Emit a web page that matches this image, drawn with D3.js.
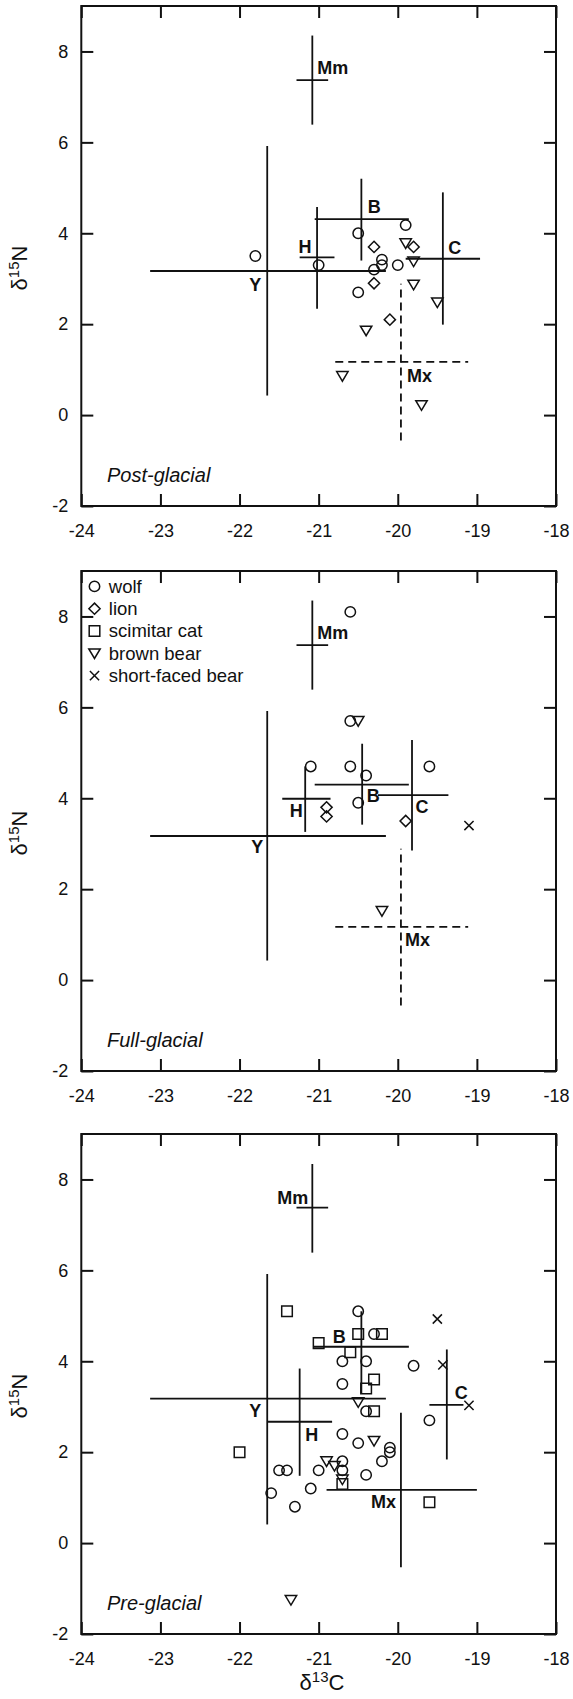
<!DOCTYPE html>
<html>
<head>
<meta charset="utf-8">
<script src="https://cdn.jsdelivr.net/npm/d3@7"></script>
<style>
  body { margin: 0; background: #fff; }
  svg text { font-family: "Liberation Sans", Arial, Helvetica, sans-serif; fill: #111; }
</style>
</head>
<body>
<div id="chart"></div>
<script>
// axis ticks
var xTicks = [-24, -23, -22, -21, -20, -19, -18];
var yTicks = [-2, 0, 2, 4, 6, 8];

// legend entries
var species = ["wolf", "lion", "scimitar cat", "brown bear", "short-faced bear"];
var speciesSymbol = ["circle", "diamond", "square", "triangle", "cross"];

// post-glacial points [d13C, d15N]
var postWolf = [[-21.8, 3.5], [-21.0, 3.3], [-20.5, 4.0], [-20.5, 2.7], [-20.3, 3.2], [-20.2, 3.42], [-20.2, 3.3], [-20.0, 3.3], [-19.9, 4.18]];
var postLion = [[-20.3, 3.7], [-20.3, 2.9], [-20.1, 2.1], [-19.8, 3.7]];
var postBrownBear = [[-19.9, 3.78], [-19.8, 3.38], [-19.8, 2.87], [-19.5, 2.48], [-20.4, 1.86], [-20.7, 0.86], [-19.7, 0.22]];

// full-glacial points
var fullWolf = [[-20.6, 8.1], [-20.6, 5.7], [-21.1, 4.7], [-20.6, 4.7], [-20.4, 4.5], [-20.5, 3.9], [-19.6, 4.7]];
var fullLion = [[-20.9, 3.8], [-20.9, 3.6], [-19.9, 3.5]];
var fullBrownBear = [[-20.5, 5.7], [-20.2, 1.52]];
var fullShortFaced = [[-19.1, 3.4]];

// pre-glacial points
var preWolf = [[-20.5, 5.1], [-20.3, 4.6], [-20.7, 4.0], [-20.4, 4.0], [-19.8, 3.9], [-20.7, 3.5], [-20.4, 2.9], [-19.6, 2.7],
  [-20.7, 2.4], [-20.5, 2.2], [-20.1, 2.1], [-20.1, 2.0], [-20.2, 1.8], [-20.7, 1.8], [-20.7, 1.6], [-20.4, 1.5],
  [-21.5, 1.6], [-21.4, 1.6], [-21.0, 1.6], [-21.1, 1.2], [-21.6, 1.1], [-21.3, 0.8]];
var preScimitar = [[-21.4, 5.1], [-21.0, 4.4], [-20.5, 4.6], [-20.2, 4.6], [-20.6, 4.2], [-20.3, 3.6], [-20.4, 3.4], [-20.3, 2.9],
  [-22.0, 2.0], [-20.7, 1.3], [-19.6, 0.9]];
var preBrownBear = [[-20.5, 3.1], [-20.3, 2.25], [-20.9, 1.8], [-20.8, 1.7], [-20.7, 1.4], [-21.35, -1.25]];
var preShortFaced = [[-19.5, 4.93], [-19.43, 3.92], [-19.1, 3.03]];

// prey group means with ranges (x = d13C, y = d15N)
var postGroups = [
  { label: "Mm", x: -21.08, x0: -21.28, x1: -20.88, y: 7.37, y0: 6.39, y1: 8.35 },
  { label: "Y", x: -21.65, x0: -23.13, x1: -20.15, y: 3.17, y0: 0.43, y1: 5.92 },
  { label: "H", x: -21.02, x0: -21.24, x1: -20.80, y: 3.47, y0: 2.34, y1: 4.58 },
  { label: "B", x: -20.46, x0: -21.05, x1: -19.86, y: 4.31, y0: 3.40, y1: 5.20 },
  { label: "C", x: -19.43, x0: -19.90, x1: -18.96, y: 3.44, y0: 1.99, y1: 4.90 },
  { label: "Mx", x: -19.96, x0: -20.79, x1: -19.11, y: 1.17, y0: -0.56, y1: 2.89 }
];
var fullGroups = [
  { label: "Mm", x: -21.08, x0: -21.28, x1: -20.88, y: 7.37, y0: 6.39, y1: 8.35 },
  { label: "Y", x: -21.65, x0: -23.13, x1: -20.15, y: 3.17, y0: 0.43, y1: 5.92 },
  { label: "H", x: -21.17, x0: -21.46, x1: -20.85, y: 3.99, y0: 3.26, y1: 4.70 },
  { label: "B", x: -20.45, x0: -21.05, x1: -19.86, y: 4.30, y0: 3.42, y1: 5.20 },
  { label: "C", x: -19.82, x0: -20.25, x1: -19.36, y: 4.07, y0: 2.85, y1: 5.28 },
  { label: "Mx", x: -19.96, x0: -20.79, x1: -19.11, y: 1.17, y0: -0.56, y1: 2.89 }
];
var preGroups = [
  { label: "Mm", x: -21.08, x0: -21.28, x1: -20.88, y: 7.38, y0: 6.39, y1: 8.34 },
  { label: "Y", x: -21.65, x0: -23.13, x1: -20.15, y: 3.18, y0: 0.41, y1: 5.92 },
  { label: "H", x: -21.24, x0: -21.64, x1: -20.83, y: 2.67, y0: 1.48, y1: 3.84 },
  { label: "B", x: -20.46, x0: -21.07, x1: -19.86, y: 4.32, y0: 3.30, y1: 5.10 },
  { label: "C", x: -19.38, x0: -19.60, x1: -19.17, y: 3.04, y0: 1.84, y1: 4.26 },
  { label: "Mx", x: -19.96, x0: -20.90, x1: -19.00, y: 1.17, y0: -0.53, y1: 2.87 }
];

// label placement (px offset from the cross centre, text anchor)
var labelPos = {
  post: { Mm: [5, -6, "start"], Y: [-12, 20, "middle"], H: [-12, -4, "middle"], B: [13, -6, "middle"], C: [12, -5, "middle"], Mx: [6, 20, "start"] },
  full: { Mm: [5, -6, "start"], Y: [-10, 17, "middle"], H: [-9, 18, "middle"], B: [11, 17, "middle"], C: [10, 18, "middle"], Mx: [4, 19, "start"] },
  pre: { Mm: [-4, -4, "end"], Y: [-12, 18, "middle"], H: [12, 19, "middle"], B: [-22, -4, "middle"], C: [8, -6, "start"], Mx: [-5, 18, "end"] }
};

var panels = [
  { key: "post", title: "Post-glacial", top: 6, groups: postGroups, dashed: ["Mx"], legend: false,
    series: [[postWolf, "circle"], [postLion, "diamond"], [postBrownBear, "triangle"]] },
  { key: "full", title: "Full-glacial", top: 571, groups: fullGroups, dashed: ["Mx"], legend: true,
    series: [[fullWolf, "circle"], [fullLion, "diamond"], [fullBrownBear, "triangle"], [fullShortFaced, "cross"]] },
  { key: "pre", title: "Pre-glacial", top: 1134, groups: preGroups, dashed: [], legend: false,
    series: [[preWolf, "circle"], [preScimitar, "square"], [preBrownBear, "triangle"], [preShortFaced, "cross"]] }
];

var width = 573, height = 1699;
var plotLeft = 81.3, plotRight = 556, plotH = 500;

var svg = d3.select("#chart").append("svg")
  .attr("width", width)
  .attr("height", height);

var x = d3.scaleLinear().domain([-24, -18]).range([plotLeft, plotRight]);

// plain hyphen minus, whole numbers
var fmt = function (d) { return String(d); };

// marker shapes
function markerPath(type) {
  if (type === "circle") return "M5.2,0A5.2,5.2 0 1,1 -5.2,0A5.2,5.2 0 1,1 5.2,0Z";
  if (type === "diamond") return "M0,-5.6L5.6,0L0,5.6L-5.6,0Z";
  if (type === "square") return "M-5.3,-5.3H5.3V5.3H-5.3Z";
  if (type === "triangle") return "M-5.7,-4.4H5.7L0,5.2Z";
  return "M-4.6,-4.6L4.6,4.6M-4.6,4.6L4.6,-4.6";
}

panels.forEach(function (p, pi) {
  var y = d3.scaleLinear().domain([-2, 9]).range([p.top + plotH, p.top]);
  var g = svg.append("g");

  // ticks, all pointing inward
  var axes = [
    [d3.axisBottom(x).tickValues(xTicks).tickSize(-12).tickPadding(18).tickFormat(fmt), "translate(0," + (p.top + plotH) + ")"],
    [d3.axisTop(x).tickValues(xTicks).tickSize(-12).tickFormat(""), "translate(0," + p.top + ")"],
    [d3.axisLeft(y).tickValues(yTicks).tickSize(-12).tickPadding(13).tickFormat(fmt), "translate(" + plotLeft + ",0)"],
    [d3.axisRight(y).tickValues(yTicks).tickSize(-12).tickFormat(""), "translate(" + plotRight + ",0)"]
  ];
  axes.forEach(function (a) {
    var ag = g.append("g").attr("transform", a[1]).call(a[0]);
    ag.select(".domain").remove();
    ag.selectAll(".tick line").attr("stroke", "#111").attr("stroke-width", 2);
    ag.selectAll("text").attr("font-size", 18).attr("fill", "#111")
      .style("font-family", "'Liberation Sans', Arial, sans-serif");
  });

  // frame
  g.append("rect")
    .attr("x", plotLeft).attr("y", p.top)
    .attr("width", plotRight - plotLeft).attr("height", plotH)
    .attr("fill", "none").attr("stroke", "#111").attr("stroke-width", 2);

  // prey group crosses
  var crosses = g.selectAll(".grp").data(p.groups).enter().append("g").attr("class", "grp");
  crosses.append("line")
    .attr("x1", function (d) { return x(d.x0); }).attr("x2", function (d) { return x(d.x1); })
    .attr("y1", function (d) { return y(d.y); }).attr("y2", function (d) { return y(d.y); });
  crosses.append("line")
    .attr("x1", function (d) { return x(d.x); }).attr("x2", function (d) { return x(d.x); })
    .attr("y1", function (d) { return y(d.y0); }).attr("y2", function (d) { return y(d.y1); });
  crosses.selectAll("line")
    .attr("stroke", "#111").attr("stroke-width", 1.8)
    .attr("stroke-dasharray", function (d) { return p.dashed.indexOf(d.label) >= 0 ? "8,5" : null; });
  crosses.append("text")
    .attr("x", function (d) { return x(d.x) + labelPos[p.key][d.label][0]; })
    .attr("y", function (d) { return y(d.y) + labelPos[p.key][d.label][1]; })
    .attr("text-anchor", function (d) { return labelPos[p.key][d.label][2]; })
    .attr("font-size", 18).attr("font-weight", "bold")
    .text(function (d) { return d.label; });

  // specimens
  p.series.forEach(function (s) {
    g.selectAll(null).data(s[0]).enter().append("path")
      .attr("transform", function (d) { return "translate(" + x(d[0]) + "," + y(d[1]) + ")"; })
      .attr("d", markerPath(s[1]))
      .attr("fill", "none").attr("stroke", "#111").attr("stroke-width", 1.5);
  });

  // period label
  g.append("text")
    .attr("x", 107).attr("y", p.top + plotH - 24)
    .attr("font-size", 20).attr("font-style", "italic")
    .text(p.title);

  // y axis title
  var yt = g.append("text")
    .attr("transform", "translate(27," + (p.top + plotH / 2 + 12) + ") rotate(-90)")
    .attr("text-anchor", "middle").attr("font-size", 22);
  yt.append("tspan").text("\u03b4");
  yt.append("tspan").attr("font-size", 15).attr("dy", -8).text("15");
  yt.append("tspan").attr("dy", 8).text("N");

  // legend
  if (p.legend) {
    species.forEach(function (name, i) {
      var ly = p.top + 15.4 + i * 22.3;
      g.append("path")
        .attr("transform", "translate(" + (plotLeft + 13.2) + "," + ly + ")")
        .attr("d", markerPath(speciesSymbol[i]))
        .attr("fill", "none").attr("stroke", "#111").attr("stroke-width", 1.5);
      g.append("text")
        .attr("x", plotLeft + 27.5).attr("y", ly).attr("dy", "0.35em")
        .attr("font-size", 18.5)
        .text(name);
    });
  }

  // x axis title on the last panel
  if (pi === panels.length - 1) {
    var xt = g.append("text")
      .attr("x", 322).attr("y", 1690)
      .attr("text-anchor", "middle").attr("font-size", 22);
    xt.append("tspan").text("\u03b4");
    xt.append("tspan").attr("font-size", 15).attr("dy", -8).text("13");
    xt.append("tspan").attr("dy", 8).text("C");
  }
});
</script>
</body>
</html>
